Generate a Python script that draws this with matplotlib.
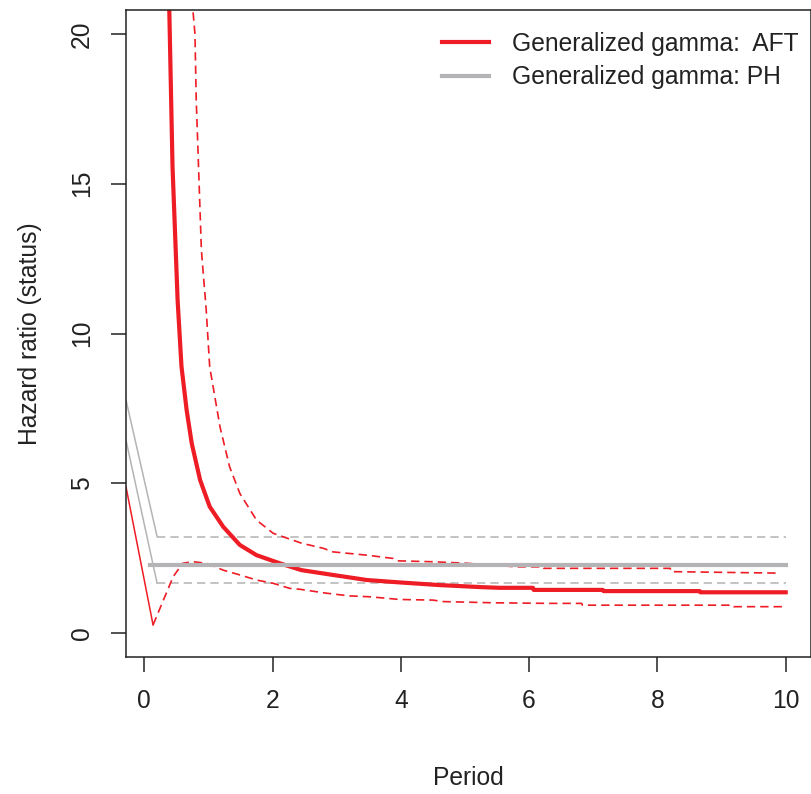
import matplotlib
matplotlib.use("Agg")
import matplotlib.pyplot as plt
from matplotlib.lines import Line2D

plt.rcParams['font.family'] = ['Liberation Sans', 'DejaVu Sans']
plt.rcParams['lines.scale_dashes'] = False

# ---- data ----
aft_x = [0.37, 0.39, 0.44, 0.52, 0.58, 0.66, 0.74, 0.87, 1.02, 1.23, 1.49, 1.75,
         2.11, 2.45, 2.94, 3.47, 3.98, 4.61, 5.28, 5.54, 6.06, 6.07, 7.15, 7.16,
         8.66, 8.67, 10.0]
aft_y = [22.0, 20.8, 15.6, 11.1, 8.9, 7.45, 6.33, 5.11, 4.22, 3.55, 2.94, 2.60,
         2.33, 2.10, 1.94, 1.77, 1.69, 1.60, 1.53, 1.51, 1.51, 1.44, 1.44, 1.40,
         1.40, 1.36, 1.36]

aft_up_x = [0.75, 0.76, 0.79, 0.81, 0.855, 0.89, 0.965, 1.02, 1.18, 1.33, 1.49, 1.75,
            2.01, 2.45, 2.79, 2.94, 3.47, 3.88, 3.95, 4.5, 5.02, 5.8, 6.22, 6.23,
            8.2, 8.21, 9.9]
aft_up_y = [22.0, 20.75, 20.0, 17.8, 15.0, 12.8, 10.8, 8.89, 6.89, 5.55, 4.66, 3.77,
            3.33, 3.0, 2.83, 2.71, 2.60, 2.49, 2.41, 2.38, 2.33, 2.21, 2.21, 2.16,
            2.16, 2.05, 2.0]

aft_lo_x = [0.137, 0.45, 0.6, 0.76, 0.97, 1.23, 1.49, 1.75, 2.01, 2.27, 2.43, 2.84,
            3.2, 3.52, 3.98, 4.5, 4.66, 5.44, 6.32, 6.82, 6.83, 9.18, 9.19, 9.95]
aft_lo_y = [0.27, 1.88, 2.33, 2.38, 2.33, 2.10, 1.94, 1.77, 1.66, 1.49, 1.46, 1.33,
            1.24, 1.21, 1.12, 1.10, 1.05, 1.01, 0.99, 0.99, 0.93, 0.93, 0.88, 0.88]

# thin solid lead-in segments
aft_lead_x = [-0.285, 0.137]
aft_lead_y = [4.88, 0.27]

ph_x = [0.09, 10.0]
ph_y = [2.28, 2.28]
ph_up_x = [0.2, 10.0]
ph_up_y = [3.22, 3.22]
ph_lo_x = [0.2, 10.0]
ph_lo_y = [1.66, 1.66]
ph_lead_up_x = [-0.285, 0.2]
ph_lead_up_y = [7.78, 3.22]
ph_lead_lo_x = [-0.285, 0.2]
ph_lead_lo_y = [6.44, 1.66]

xticks = [0, 2, 4, 6, 8, 10]
yticks = [0, 5, 10, 15, 20]
legend_labels = ["Generalized gamma:  AFT", "Generalized gamma: PH"]

RED = "#EE1C25"
GRAY = "#B4B4B7"
DGRAY = "#B9B9B9"
INK = "#222222"
FS = 17.7
DASH = (0, (6.0, 3.6))

fig = plt.figure(figsize=(8.11, 7.94), dpi=100)
ax = fig.add_axes([126 / 811, 1 - 657 / 794, (810.5 - 126) / 811, (657 - 10) / 794])

ax.plot(ph_lead_up_x, ph_lead_up_y, color=GRAY, lw=1.1)
ax.plot(ph_lead_lo_x, ph_lead_lo_y, color=GRAY, lw=1.1)
ax.plot(ph_up_x, ph_up_y, color=DGRAY, lw=1.2, ls=DASH)
ax.plot(ph_lo_x, ph_lo_y, color=DGRAY, lw=1.2, ls=DASH)
ax.plot(aft_lead_x, aft_lead_y, color=RED, lw=1.1)
ax.plot(aft_up_x, aft_up_y, color=RED, lw=1.2, ls=DASH)
ax.plot(aft_lo_x, aft_lo_y, color=RED, lw=1.2, ls=DASH)
ax.plot(aft_x, aft_y, color=RED, lw=3.0, solid_joinstyle='round')
ax.plot(ph_x, ph_y, color=GRAY, lw=3.0)

ax.set_xlim(-0.285, 10.387)
ax.set_ylim(-0.8, 20.8)
ax.set_xticks(xticks)
ax.set_yticks(yticks)
ax.set_xticklabels([str(v) for v in xticks])
ax.set_yticklabels([str(v) for v in yticks])

for s in ax.spines.values():
    s.set_color(INK)
    s.set_linewidth(1.1)

ax.tick_params(axis='both', direction='out', length=11, width=1.1, color=INK,
               labelsize=FS, labelcolor=INK)
ax.tick_params(axis='x', pad=12)
ax.tick_params(axis='y', pad=12, labelrotation=90)
for lab in ax.get_yticklabels():
    lab.set_va('center')

ax.set_xlabel("Period", fontsize=FS, color=INK)
ax.xaxis.set_label_coords(0.5, (657 - 785) / 647)
ax.xaxis.label.set_va('baseline')
ax.set_ylabel("Hazard ratio (status)", fontsize=FS, color=INK)
ax.yaxis.set_label_coords((37 - 126) / 684.5, 0.5)
ax.yaxis.label.set_va('baseline')

handles = [Line2D([], [], color=RED, lw=3.0), Line2D([], [], color=GRAY, lw=3.0)]
ax.legend(handles, legend_labels, loc='upper left', frameon=False, fontsize=FS,
          bbox_to_anchor=(442 / 811, (794 - 31.5) / 794), bbox_transform=fig.transFigure,
          borderaxespad=0, borderpad=0, handlelength=1.9, handletextpad=0.93,
          labelspacing=0.4, labelcolor=INK)

fig.savefig("out.png", dpi=100)
